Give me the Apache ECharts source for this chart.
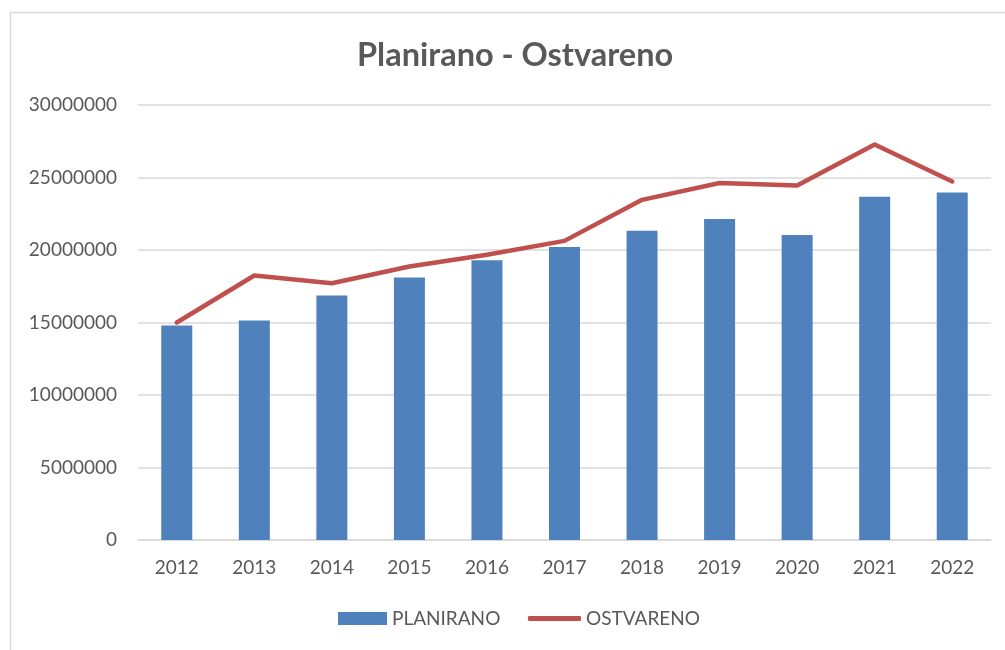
<!DOCTYPE html>
<html>
<head>
<meta charset="utf-8">
<script src="https://cdn.jsdelivr.net/npm/echarts@6/dist/echarts.min.js"></script>
<style>
html,body{margin:0;padding:0;background:#fff;}
#c{width:1005px;height:650px;}
</style>
</head>
<body>
<div id="c"></div>
<script>
const categories = ['2012','2013','2014','2015','2016','2017','2018','2019','2020','2021','2022'];
const planirano = [14800000,15130000,16860000,18100000,19300000,20200000,21330000,22130000,21030000,23670000,23970000];
const ostvareno = [15000000,18240000,17710000,18860000,19670000,20630000,23460000,24620000,24450000,27280000,24730000];
const seriesNames = ['PLANIRANO','OSTVARENO'];
const titleText = 'Planirano - Ostvareno';

const chart = echarts.init(document.getElementById('c'));
const font = 'Lato, "Open Sans", sans-serif';
const legendText = {fontFamily: font, fontSize: 19, color: '#595959'};
chart.setOption({
  animation: false,
  backgroundColor: '#fff',
  graphic: [{
    type: 'rect',
    shape: {x: 10.5, y: 12.5, width: 1010, height: 660},
    style: {fill: 'none', stroke: '#D9D9D9', lineWidth: 1.5},
    silent: true
  }],
  title: {
    text: titleText,
    left: 352,
    top: 34,
    textStyle: {fontFamily: font, fontWeight: 'bold', fontSize: 32.5, color: '#595959'}
  },
  legend: [
    {
      left: 333,
      top: 604,
      itemWidth: 49,
      itemHeight: 13,
      textStyle: legendText,
      data: [{name: seriesNames[0], icon: 'rect'}]
    },
    {
      left: 523,
      top: 604,
      itemWidth: 53,
      itemHeight: 5,
      textStyle: legendText,
      data: [{name: seriesNames[1], icon: 'roundRect', itemStyle: {color: '#C0504D'}}]
    }
  ],
  grid: {left: 138, right: 14, top: 105, bottom: 110, containLabel: false},
  xAxis: {
    type: 'category',
    data: categories,
    boundaryGap: true,
    axisLine: {lineStyle: {color: '#D9D9D9', width: 1.5}},
    axisTick: {show: false},
    axisLabel: {fontFamily: font, fontSize: 19, color: '#595959', margin: 18}
  },
  yAxis: {
    type: 'value',
    min: 0,
    max: 30000000,
    interval: 5000000,
    axisLine: {show: false},
    axisTick: {show: false},
    splitLine: {lineStyle: {color: '#D9D9D9', width: 1.5}},
    axisLabel: {fontFamily: font, fontSize: 19, color: '#595959', margin: 21, formatter: v => String(v)}
  },
  series: [
    {
      name: seriesNames[0],
      type: 'bar',
      data: planirano,
      barWidth: 31,
      itemStyle: {color: '#4F81BD'}
    },
    {
      name: seriesNames[1],
      type: 'line',
      data: ostvareno,
      symbol: 'none',
      lineStyle: {color: '#C0504D', width: 4.5, cap: 'round', join: 'round'},
      itemStyle: {color: '#C0504D'}
    }
  ]
});
</script>
</body>
</html>
